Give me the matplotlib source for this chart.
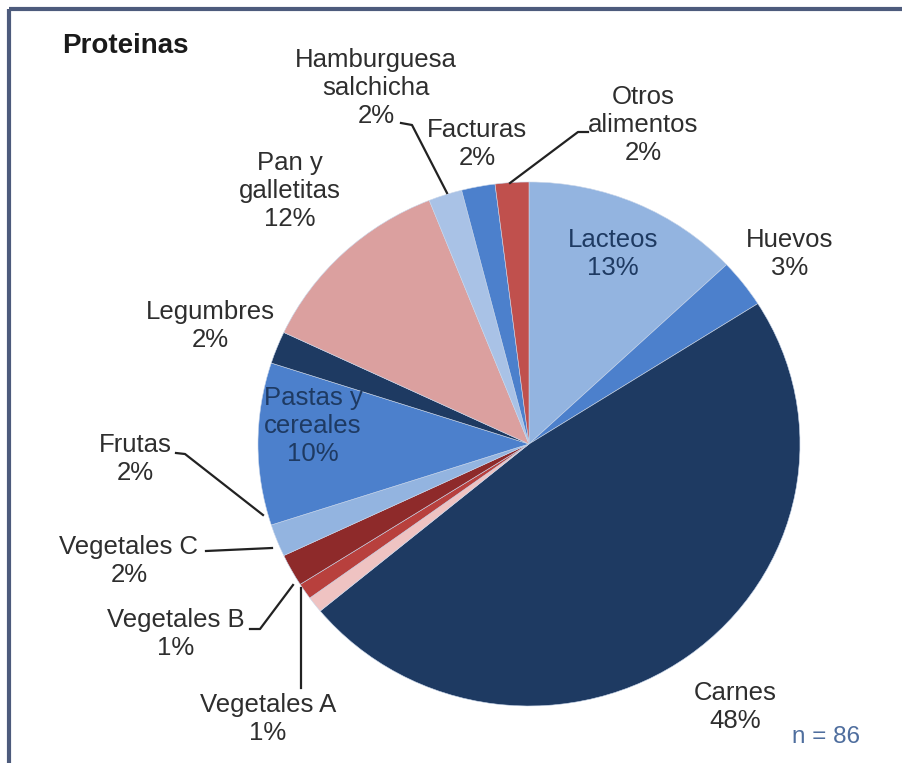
import numpy as np
import matplotlib.pyplot as plt

# datos del grafico (porcentajes de aporte de proteinas)
categorias = ['Lacteos', 'Huevos', 'Carnes', 'Vegetales A', 'Vegetales B',
              'Vegetales C', 'Frutas', 'Pastas y\ncereales', 'Legumbres',
              'Pan y\ngalletitas', 'Hamburguesa\nsalchicha', 'Facturas',
              'Otros\nalimentos']
porcentajes = [13, 3, 48, 1, 1, 2, 2, 10, 2, 12, 2, 2, 2]
colores = ['#93B4E0', '#4C80CC', '#1E3A62', '#EFC3C2', '#B8403D',
           '#8E2A2A', '#93B4E0', '#4C80CC', '#1E3A62', '#DBA09F',
           '#A9C2E6', '#4C80CC', '#C0504D']
titulo = 'Proteinas'
n_total = 86

# posiciones de etiquetas en pixeles de la imagen (x, y)
pos_etiquetas = [(613, 254), (790, 254), (735, 707), (268, 719), (176, 634),
                 (129, 561), (135, 459), (313, 426), (210, 326), (290, 191),
                 (376, 88), (477, 144), (643, 125)]
internas = ['Lacteos', 'Pastas y\ncereales']

# lineas guia (pixeles)
guias = {
    'Hamburguesa\nsalchicha': [(401, 123), (412, 125), (447, 193)],
    'Otros\nalimentos': [(588, 132), (578, 132), (510, 183)],
    'Frutas': [(176, 453), (185, 454), (263, 515)],
    'Vegetales C': [(206, 551), (272, 548)],
    'Vegetales B': [(250, 629), (260, 629), (293, 585)],
    'Vegetales A': [(301, 688), (301, 588)],
}

W, H = 903, 763
fig = plt.figure(figsize=(W / 100, H / 100), dpi=100)
fig.patch.set_facecolor('white')

# pastel (ligeramente achatado como en el original)
cx, cy, rx, ry = 529, 444, 271, 262
axp = fig.add_axes([(cx - rx) / W, (H - cy - ry) / H, 2 * rx / W, 2 * ry / H])
wedges, _ = axp.pie(porcentajes, colors=colores, startangle=90,
                    counterclock=False, radius=1,
                    wedgeprops=dict(edgecolor='#c9d6ea', linewidth=0.4))
axp.set_aspect('auto')
axp.set_xlim(-1, 1)
axp.set_ylim(-1, 1)
axp.axis('off')

# capa de texto en coordenadas de pixel
ax = fig.add_axes([0, 0, 1, 1], zorder=5)
ax.set_xlim(0, W)
ax.set_ylim(H, 0)
ax.axis('off')

# marco
ax.plot([9, 9], [H, 9], color='#4d5b7c', lw=3, solid_capstyle='butt')
ax.plot([9, W], [9, 9], color='#4d5b7c', lw=3, solid_capstyle='butt')

fuente = 'Liberation Sans'
ax.text(62, 46, titulo, fontsize=20, fontweight='bold', family=fuente,
        color='#1a1a1a', ha='left', va='center')

for cat, p, (x, y) in zip(categorias, porcentajes, pos_etiquetas):
    col = '#1E3A62' if cat in internas else '#2e2e2e'
    ax.text(x, y, f'{cat}\n{p}%', fontsize=18.5, family=fuente, color=col,
            ha='center', va='center', linespacing=1.2)

for cat, pts in guias.items():
    xs = [q[0] for q in pts]
    ys = [q[1] for q in pts]
    ax.plot(xs, ys, color='#222222', lw=1.6)

ax.text(826, 737, f'n = {n_total}', fontsize=17.5, family=fuente,
        color='#4F6E9E', ha='center', va='center')

fig.savefig('out.png', dpi=100)
